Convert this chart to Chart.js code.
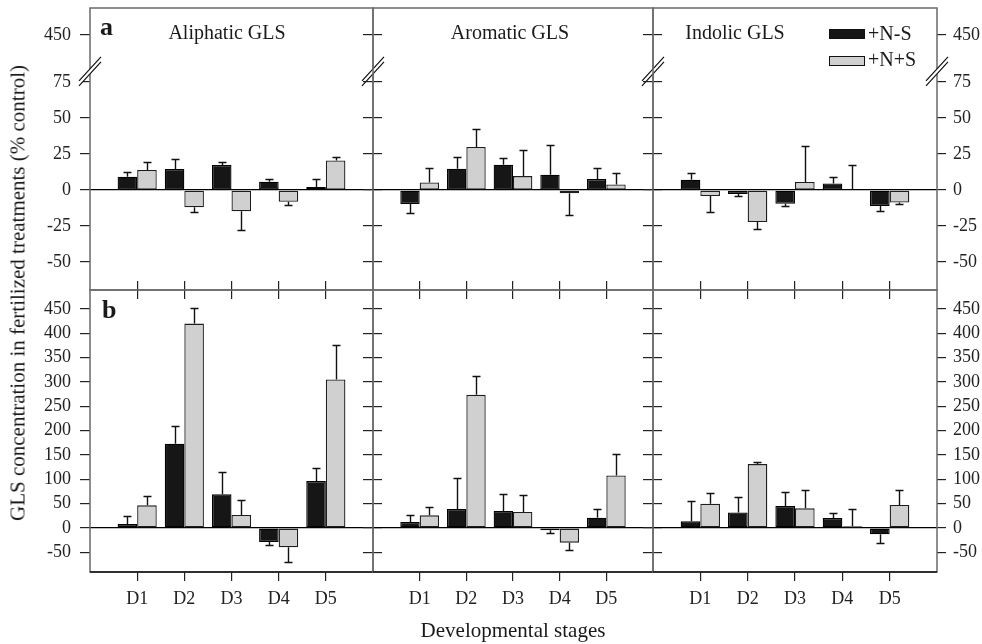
<!DOCTYPE html>
<html>
<head>
<meta charset="utf-8">
<script src="https://cdn.jsdelivr.net/npm/chart.js@4.4.1/dist/chart.umd.min.js"></script>
<style>
	body { margin: 0; background: #fff; width: 982px; height: 644px; position: relative; overflow: hidden;
		font-family: "Liberation Serif", "Times New Roman", serif; color: #1a1a1a; }
	canvas { position: absolute; left: 0; top: 0; }
	.txt { position: absolute; white-space: nowrap; line-height: 1; }
	.sw { position: absolute; width: 36px; height: 10px; box-sizing: border-box; border: 1.3px solid #111; }
</style>
</head>
<body>
<canvas id="p0" width="982" height="644"></canvas>
<canvas id="p1" width="982" height="644"></canvas>
<canvas id="p2" width="982" height="644"></canvas>
<canvas id="p3" width="982" height="644"></canvas>
<canvas id="p4" width="982" height="644"></canvas>
<canvas id="p5" width="982" height="644"></canvas>

<div class="txt" style="left:100px;top:14px;font-size:26px;font-weight:bold">a</div>
<div class="txt" style="left:102px;top:297px;font-size:26px;font-weight:bold">b</div>
<div class="txt" style="left:227px;top:22px;font-size:20px;transform:translateX(-50%)">Aliphatic GLS</div>
<div class="txt" style="left:510px;top:22px;font-size:20px;transform:translateX(-50%)">Aromatic GLS</div>
<div class="txt" style="left:735px;top:22px;font-size:20px;transform:translateX(-50%)">Indolic GLS</div>
<div class="sw" style="left:829px;top:29px;background:#161616"></div>
<div class="sw" style="left:829px;top:56px;background:#d0d0d0"></div>
<div class="txt" style="left:868px;top:23px;font-size:20px">+N-S</div>
<div class="txt" style="left:868px;top:49px;font-size:20px">+N+S</div>
<div class="txt" style="left:513px;top:620px;font-size:21px;transform:translateX(-50%)">Developmental stages</div>
<div class="txt" style="left:18px;top:293px;font-size:21px;transform:translate(-50%,-50%) rotate(-90deg)">GLS concentration in fertilized treatments (% control)</div>

<script>
(function(window, document, undefined) {
	var stages = ['D1', 'D2', 'D3', 'D4', 'D5'];
	var topTicks = [-50, -25, 0, 25, 50, 75, 450];
	var bottomTicks = [-50, 0, 50, 100, 150, 200, 250, 300, 350, 400, 450];

	// a: relative change, b: absolute change (% control)
	var aliphaticA_NS = [9.3, 14.6, 17.4, 5.8, 2.1];
	var aliphaticA_NS_err = [3.4, 6.9, 1.8, 2.1, 5.8];
	var aliphaticA_NpS = [13.9, -12.0, -14.8, -8.1, 20.6];
	var aliphaticA_NpS_err = [5.8, 3.3, 13.0, 2.1, 2.1];

	var aromaticA_NS = [-9.7, 14.8, 17.6, 10.6, 7.6];
	var aromaticA_NS_err = [6.5, 8.3, 4.4, 20.7, 7.4];
	var aromaticA_NpS = [5.3, 29.9, 9.7, -2.3, 3.9];
	var aromaticA_NpS_err = [10.2, 12.5, 18.1, 15.1, 7.7];

	var indolicA_NS = [7.2, -2.8, -9.5, 4.6, -11.1];
	var indolicA_NS_err = [4.4, 1.1, 1.4, 4.7, 3.3];
	var indolicA_NpS = [-4.2, -22.2, 5.6, 0.3, -8.6];
	var indolicA_NpS_err = [11.3, 5.1, 25.0, 17.1, 1.1];

	var aliphaticB_NS = [8.2, 173, 69.1, -28.7, 96.4];
	var aliphaticB_NS_err = [17.1, 37, 46.5, 5.5, 27.4];
	var aliphaticB_NpS = [46.5, 420, 26.7, -39.7, 305];
	var aliphaticB_NpS_err = [19.8, 32, 31.4, 29.4, 71];

	var aromaticB_NS = [12.3, 39.0, 34.9, -4.8, 21.2];
	var aromaticB_NS_err = [15.1, 64.3, 34.2, 4.8, 17.8];
	var aromaticB_NpS = [26.0, 273.6, 32.8, -30.1, 108.1];
	var aromaticB_NpS_err = [17.8, 39, 35.6, 15.7, 43.1];

	var indolicB_NS = [13.7, 32.1, 45.1, 20.5, -13.0];
	var indolicB_NS_err = [42.4, 30.8, 28.1, 11, 17.8];
	var indolicB_NpS = [49.9, 131.3, 40.4, 3.4, 47.2];
	var indolicB_NpS_err = [22.6, 4.8, 36.9, 35.6, 31.5];

	// broken axis on row a: 75 .. 450 squeezed into a small gap
	var breakLow = 75;
	var breakHigh = 450;
	var breakGap = 32.6;

	function toAxis(v) {
		return v > breakLow ? v - breakHigh + breakLow + breakGap : v;
	}
	function fromAxis(a) {
		return a > breakLow ? Math.round(a - breakLow - breakGap + breakHigh) : a;
	}

	var cols = [[90, 373], [373, 653], [653, 937]];
	var rows = [[8, 290], [290, 572]];
	var yW = 60;
	var y2W = 45;
	var xH = 40;
	var font = { family: '"Liberation Serif", "Times New Roman", serif', size: 18 };

	function pad(arr) {
		return [null].concat(arr, [null]);
	}

	var errorBars = {
		id: 'errorBars',
		afterDatasetsDraw: function(chart) {
			var ctx = chart.ctx;
			var y = chart.scales.y;
			ctx.save();
			ctx.strokeStyle = '#111';
			ctx.lineWidth = 1.4;
			chart.data.datasets.forEach(function(ds, i) {
				var meta = chart.getDatasetMeta(i);
				meta.data.forEach(function(bar, j) {
					var v = ds.data[j];
					var e = ds.errors[j];
					if (v === null || e === null) {
						return;
					}
					var end = v >= 0 ? v + e : v - e;
					var py = Math.round(y.getPixelForValue(end)) + 0.5;
					var x = Math.round(bar.x) + 0.5;
					ctx.beginPath();
					ctx.moveTo(x, bar.y);
					ctx.lineTo(x, py);
					ctx.moveTo(x - 4, py);
					ctx.lineTo(x + 4, py);
					ctx.stroke();
				});
			});
			ctx.restore();
		}
	};

	var frame = {
		id: 'frame',
		afterDraw: function(chart, args, opts) {
			var a = chart.chartArea;
			var ctx = chart.ctx;
			ctx.save();
			ctx.lineWidth = 1.5;
			ctx.strokeStyle = '#6a6a6a';
			ctx.strokeRect(a.left, a.top, a.right - a.left, a.bottom - a.top);
			if (opts.row === 1) {
				ctx.strokeStyle = '#111';
				ctx.beginPath();
				ctx.moveTo(a.left, a.bottom);
				ctx.lineTo(a.right, a.bottom);
				ctx.stroke();
			}
			if (opts.row === 0) {
				var yc = chart.scales.y.getPixelForValue(82);
				var xs = opts.col === 0 ? [a.left, a.right] : [a.right];
				xs.forEach(function(x) {
					ctx.fillStyle = '#fff';
					ctx.beginPath();
					ctx.moveTo(x - 11, yc + 9);
					ctx.lineTo(x + 11, yc - 15);
					ctx.lineTo(x + 11, yc - 10);
					ctx.lineTo(x - 11, yc + 14);
					ctx.closePath();
					ctx.fill();
					ctx.strokeStyle = '#111';
					ctx.lineWidth = 1.2;
					ctx.beginPath();
					ctx.moveTo(x - 11, yc + 9);
					ctx.lineTo(x + 11, yc - 15);
					ctx.moveTo(x - 11, yc + 14);
					ctx.lineTo(x + 11, yc - 10);
					ctx.stroke();
				});
			}
			ctx.restore();
		}
	};

	function fixSize(w, h) {
		return function(s) {
			if (w !== null) { s.width = w; }
			if (h !== null) { s.height = h; }
			s.paddingLeft = 0;
			s.paddingRight = 0;
			s.paddingTop = 0;
			s.paddingBottom = 0;
		};
	}

	function xTickColor(c) {
		return (c.index === 0 || c.index === 6) ? 'rgba(0,0,0,0)' : '#222';
	}

	function makePanel(id, col, row, ns, nsErr, nps, npsErr) {
		var isTop = row === 0;
		var tickVals = isTop ? topTicks : bottomTicks;
		var yRange = isTop ? [-69.4, 126.4] : [-90.4, 489];

		var yBase = {
			min: yRange[0],
			max: yRange[1],
			afterBuildTicks: function(s) {
				s.ticks = tickVals.map(function(v) {
					return { value: isTop ? toAxis(v) : v };
				});
			},
			border: { display: false }
		};

		var scales = {
			x: {
				type: 'category',
				position: 'bottom',
				offset: false,
				grid: { offset: false, drawOnChartArea: false, tickLength: 9, lineWidth: 1.2, tickColor: xTickColor },
				border: { display: false },
				ticks: { display: !isTop, padding: 7, font: font, color: '#222', autoSkip: false, maxRotation: 0 },
				afterFit: fixSize(null, xH)
			},
			y: Object.assign({}, yBase, {
				position: 'left',
				afterFit: fixSize(yW, null),
				ticks: {
					display: col === 0,
					padding: 9,
					font: font,
					color: '#222',
					callback: function(v) { return isTop ? fromAxis(v) : v; }
				},
				grid: {
					drawOnChartArea: true,
					tickLength: 10,
					lineWidth: 1.2,
					tickColor: '#222',
					color: function(c) {
						return c.tick && c.tick.value === 0 ? '#000' : 'rgba(0,0,0,0)';
					}
				}
			}),
			y2: Object.assign({}, yBase, {
				position: 'right',
				afterFit: fixSize(y2W, null),
				ticks: {
					display: col === 2,
					padding: 7,
					font: font,
					color: '#222',
					callback: function(v) { return isTop ? fromAxis(v) : v; }
				},
				grid: { drawOnChartArea: false, tickLength: 9, lineWidth: 1.2, color: '#222' }
			})
		};

		if (!isTop) {
			scales.x2 = {
				type: 'category',
				position: 'top',
				offset: false,
				grid: { offset: false, drawOnChartArea: false, tickLength: 9, lineWidth: 1.2, tickColor: xTickColor },
				border: { display: false },
				ticks: { display: false },
				afterFit: fixSize(null, 0)
			};
		}

		return new Chart(document.getElementById(id), {
			type: 'bar',
			data: {
				labels: [''].concat(stages, ['']),
				datasets: [{
					label: '+N-S',
					data: pad(ns),
					errors: pad(nsErr),
					backgroundColor: '#161616',
					borderColor: '#000',
					borderWidth: 1.3,
					borderSkipped: false
				}, {
					label: '+N+S',
					data: pad(nps),
					errors: pad(npsErr),
					backgroundColor: '#d0d0d0',
					borderColor: '#1e1e1e',
					borderWidth: 1.3,
					borderSkipped: false
				}]
			},
			options: {
				responsive: false,
				animation: false,
				categoryPercentage: 0.83,
				barPercentage: 1,
				layout: {
					autoPadding: false,
					padding: {
						left: cols[col][0] - yW,
						right: 982 - cols[col][1] - y2W,
						top: rows[row][0],
						bottom: 644 - rows[row][1] - xH
					}
				},
				plugins: {
					legend: { display: false },
					tooltip: { enabled: false },
					frame: { row: row, col: col }
				},
				scales: scales
			},
			plugins: [errorBars, frame]
		});
	}

	document.addEventListener('DOMContentLoaded', function() {
		makePanel('p0', 0, 0, aliphaticA_NS, aliphaticA_NS_err, aliphaticA_NpS, aliphaticA_NpS_err);
		makePanel('p1', 1, 0, aromaticA_NS, aromaticA_NS_err, aromaticA_NpS, aromaticA_NpS_err);
		makePanel('p2', 2, 0, indolicA_NS, indolicA_NS_err, indolicA_NpS, indolicA_NpS_err);
		makePanel('p3', 0, 1, aliphaticB_NS, aliphaticB_NS_err, aliphaticB_NpS, aliphaticB_NpS_err);
		makePanel('p4', 1, 1, aromaticB_NS, aromaticB_NS_err, aromaticB_NpS, aromaticB_NpS_err);
		makePanel('p5', 2, 1, indolicB_NS, indolicB_NS_err, indolicB_NpS, indolicB_NpS_err);
	}, false);
})(window, document);
</script>
</body>
</html>
